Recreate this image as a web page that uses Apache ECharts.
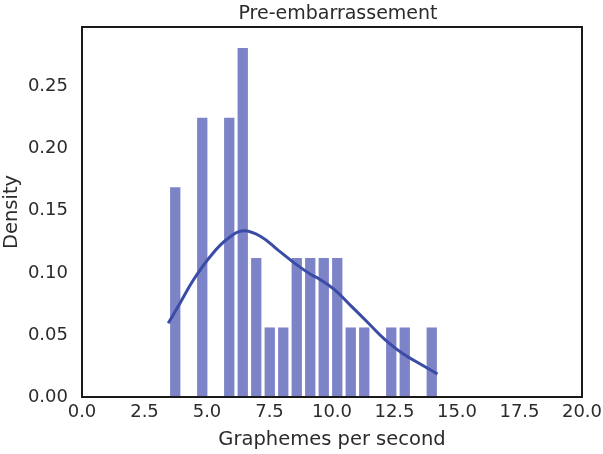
<!DOCTYPE html>
<html>
<head>
<meta charset="utf-8">
<script src="https://cdn.jsdelivr.net/npm/echarts@6/dist/echarts.min.js"></script>
<style>
  html, body { margin: 0; padding: 0; background: #fff; }
  #chart { width: 603px; height: 454px; }
</style>
</head>
<body>
<div id="chart"></div>
<script>
// Histogram bin edges (graphemes per second)
const binEdges = [3.46, 4.00, 4.54, 5.08, 5.62, 6.16, 6.70, 7.24, 7.78, 8.32, 8.86,
                  9.40, 9.94, 10.48, 11.02, 11.56, 12.10, 12.64, 13.18, 13.72, 14.26];
// Density of each bin
const binDensity = [0.169, 0, 0.225, 0, 0.225, 0.281, 0.112, 0.056, 0.056, 0.112,
                    0.112, 0.112, 0.112, 0.056, 0.056, 0, 0.056, 0.056, 0, 0.056];
// Kernel density estimate
const kdeX = [3.45, 3.92, 4.46, 5.13, 5.81, 6.48, 7.15, 7.83, 8.50, 9.17,
              9.44, 10.11, 10.79, 11.46, 12.13, 12.81, 13.48, 14.22];
const kdeY = [0.0594, 0.0756, 0.0944, 0.1132, 0.1272, 0.1339, 0.1293, 0.1185, 0.1078, 0.0984,
              0.0957, 0.0863, 0.0728, 0.0594, 0.0460, 0.0352, 0.0272, 0.0185];
const xTicks = [0, 2.5, 5, 7.5, 10, 12.5, 15, 17.5, 20];
const yTicks = [0, 0.05, 0.10, 0.15, 0.20, 0.25];

const barData = binDensity.map((d, i) => [binEdges[i], binEdges[i + 1], d]);
const kdeData = kdeX.map((x, i) => [x, kdeY[i]]);

const chart = echarts.init(document.getElementById('chart'));
const font = 'DejaVu Sans';
const textColor = '#2b2b2b';
chart.setOption({
  animation: false,
  backgroundColor: '#ffffff',
  title: {
    text: 'Pre-embarrassement',
    left: 333, top: 0, textAlign: 'center',
    textStyle: { fontFamily: font, fontSize: 19, fontWeight: 'normal', color: textColor }
  },
  grid: {
    left: 82, right: 21, top: 27, bottom: 57,
    outerBoundsMode: 'none', containLabel: false,
    show: true, borderColor: '#1a1a1a', borderWidth: 2, backgroundColor: 'transparent'
  },
  xAxis: {
    type: 'value', min: xTicks[0], max: xTicks[xTicks.length - 1], interval: 2.5,
    name: 'Graphemes per second', nameLocation: 'middle', nameGap: 33, nameMoveOverlap: false,
    nameTextStyle: { fontFamily: font, fontSize: 19.5, color: textColor },
    axisLine: { show: false }, axisTick: { show: false }, splitLine: { show: false },
    axisLabel: { fontFamily: font, fontSize: 18, color: textColor, margin: 6,
                 formatter: v => v.toFixed(1) }
  },
  yAxis: {
    type: 'value', min: yTicks[0], max: 0.298, interval: 0.05,
    name: 'Density', nameLocation: 'middle', nameGap: 60, nameMoveOverlap: false,
    nameTextStyle: { fontFamily: font, fontSize: 19.5, color: textColor },
    axisLine: { show: false }, axisTick: { show: false }, splitLine: { show: false },
    axisLabel: { fontFamily: font, fontSize: 18, color: textColor, margin: 14, showMaxLabel: false,
                 formatter: v => (yTicks.some(t => Math.abs(t - v) < 1e-6) ? v.toFixed(2) : '') }
  },
  series: [
    {
      type: 'custom',
      data: barData,
      encode: { x: [0, 1], y: 2 },
      renderItem: function (params, api) {
        if (!(api.value(2) > 0)) return null;
        const p0 = api.coord([api.value(0), api.value(2)]);
        const p1 = api.coord([api.value(1), 0]);
        // white gap between neighbouring bins
        const gap = 1.6;
        return {
          type: 'rect',
          shape: { x: p0[0] + gap, y: p0[1], width: p1[0] - p0[0] - 2 * gap, height: p1[1] - p0[1] - 1 },
          style: { fill: '#7d83c7' }
        };
      },
      z: 2
    },
    {
      type: 'line',
      data: kdeData,
      smooth: 0.4,
      symbol: 'none',
      lineStyle: { color: '#3a4ca6', width: 3 },
      z: 3
    }
  ]
});
</script>
</body>
</html>
